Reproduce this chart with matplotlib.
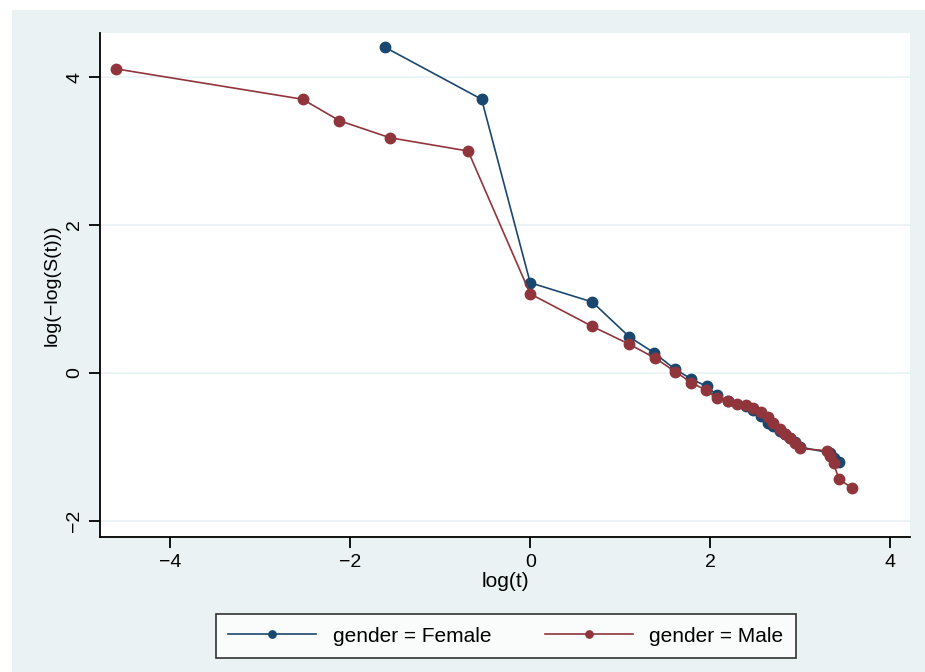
import matplotlib
matplotlib.use("Agg")
import matplotlib.pyplot as plt
from matplotlib.patches import Rectangle

plt.rcParams['font.family'] = ['Liberation Sans', 'DejaVu Sans']

# log(t) and log(-log(S(t)))
female_x = [-1.61, -0.54, 0.0, 0.69, 1.10, 1.38, 1.61, 1.79, 1.96, 2.08, 2.20, 2.40,
            2.48, 2.56, 2.64, 2.70, 2.77, 2.83, 2.89, 2.94, 3.00, 3.33, 3.37, 3.43]
female_y = [4.40, 3.70, 1.22, 0.96, 0.49, 0.27, 0.05, -0.08, -0.18, -0.30, -0.38, -0.45,
            -0.50, -0.58, -0.68, -0.72, -0.78, -0.82, -0.88, -0.93, -1.00, -1.08, -1.15, -1.20]

male_x = [-4.60, -2.53, -2.12, -1.56, -0.69, 0.0, 0.69, 1.10, 1.39, 1.61, 1.79, 1.95,
          2.08, 2.20, 2.30, 2.40, 2.48, 2.56, 2.64, 2.70, 2.77, 2.83, 2.89, 2.94, 3.00,
          3.30, 3.33, 3.37, 3.43, 3.58]
male_y = [4.11, 3.70, 3.41, 3.18, 3.00, 1.07, 0.63, 0.39, 0.20, 0.02, -0.13, -0.23,
          -0.34, -0.38, -0.42, -0.43, -0.47, -0.53, -0.60, -0.68, -0.75, -0.82, -0.88,
          -0.95, -1.02, -1.05, -1.12, -1.22, -1.43, -1.56]

navy = '#1a476f'
maroon = '#90353b'
bg = '#eaf2f3'

fig = plt.figure(figsize=(9.25, 6.72), dpi=100)
fig.patch.set_facecolor('white')
fig.patches.append(Rectangle((12 / 925, 0), 1, 1 - 10 / 672, transform=fig.transFigure,
                             facecolor=bg, edgecolor='none', zorder=-10))

ax = fig.add_axes([100 / 925, 1 - 537 / 672, 810 / 925, 504 / 672])
ax.set_facecolor('white')

ax.plot(female_x, female_y, '-o', color=navy, lw=1.2, ms=7.5, label='gender = Female')
ax.plot(male_x, male_y, '-o', color=maroon, lw=1.2, ms=7.5, label='gender = Male')

ax.set_xlim(-4.78, 4.22)
ax.set_ylim(-2.216, 4.595)
ax.set_xticks([-4, -2, 0, 2, 4])
ax.set_yticks([-2, 0, 2, 4])
ax.grid(axis='y', color=bg, lw=1.2)
ax.set_axisbelow(True)

for s in ['top', 'right']:
    ax.spines[s].set_visible(False)
for s in ['left', 'bottom']:
    ax.spines[s].set_linewidth(1.3)
ax.tick_params(direction='out', length=8, width=1.3, labelsize=14, pad=4)
plt.setp(ax.get_yticklabels(), rotation=90, va='center')

ax.set_xlabel('log(t)', fontsize=15, labelpad=1)
ax.set_ylabel('log(\u2212log(S(t)))', fontsize=14, labelpad=4)

leg = ax.legend(loc='center', bbox_to_anchor=(506 / 925, 1 - 636 / 672),
                bbox_transform=fig.transFigure, ncol=2, fontsize=15, frameon=True,
                fancybox=False, edgecolor='black', handlelength=4.2, columnspacing=2.6,
                markerscale=0.7, borderpad=0.6)
leg.get_frame().set_linewidth(1.2)

fig.savefig('out.png', dpi=100)
